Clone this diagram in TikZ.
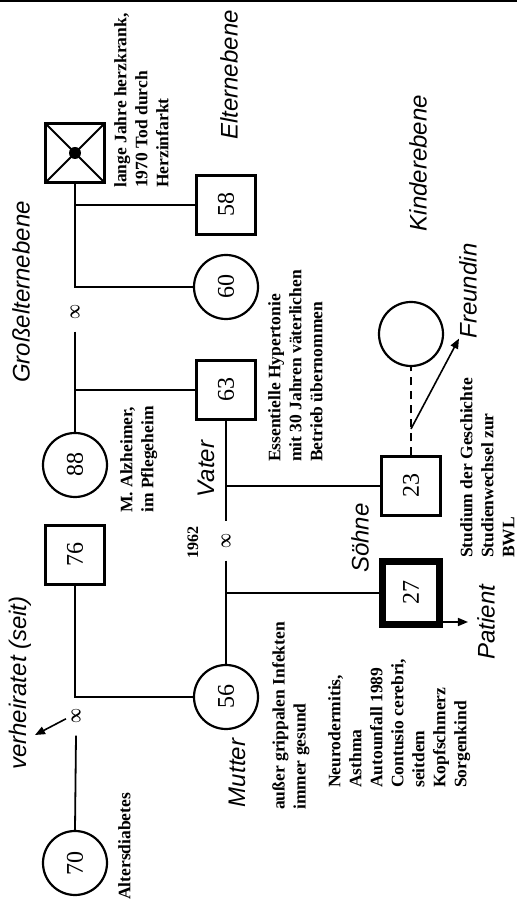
\documentclass[tikz,border=0pt]{standalone}
\usepackage{fontspec}
\setmainfont{Liberation Serif}
\newfontfamily\helv{Liberation Sans}
\usetikzlibrary{arrows.meta, calc}

\newcommand\notizfont{\bfseries\fontsize{17.5}{21}\selectfont}
\newcommand\zahlfont{\fontsize{24}{24}\selectfont}
\newcommand\ebenefont{\helv\itshape\fontsize{24}{26}\selectfont}
\newcommand\unendl{\resizebox{15pt}{9pt}{\boldmath$\infty$}}

\tikzset{
  mann/.style       = {draw, line width=2.2pt, minimum size=59pt,
                       inner sep=0pt, font=\zahlfont},
  frau/.style       = {mann, circle, minimum size=64pt},
  verstorben/.style = {mann, path picture={
                         \draw[line width=2pt]
                           (path picture bounding box.north west) -- (path picture bounding box.south east)
                           (path picture bounding box.north east) -- (path picture bounding box.south west);
                         \fill (path picture bounding box.center) circle (6pt);}},
  indexpers/.style  = {mann, line width=7pt, minimum width=63pt, minimum height=57pt},
  ehe/.style        = {inner xsep=12pt, inner ysep=0pt},
  linie/.style      = {line width=1.8pt},
  arr/.style        = {-{Triangle[length=10pt, width=8pt]}, line width=1.6pt},
  notiz/.style      = {font=\notizfont, align=left, inner sep=0pt, anchor=north west},
  ebene/.style      = {font=\ebenefont, inner sep=0pt},
}

\begin{document}
\begin{tikzpicture}[x=1pt, y=1pt]
  \useasboundingbox (0,0) rectangle (517,903);
  \draw[line width=2.2pt] (0,902) -- (517,902);

  % genogram, drawn upright and turned by 90 degrees
  \begin{scope}[rotate=90, transform shape]

    % Großelternebene
    \node[verstorben] (gvtr)    at (750,-75) {};
    \node[frau]       (oma88)   at (438,-75) {88};
    \node[mann]       (opa76)   at (348,-75) {76};
    \node[frau]       (oma70)   at (40,-75)  {70};
    \node[ehe]        (ehe1)    at (591,-75) {\unendl};
    \node[ehe]        (ehe2)    at (187,-76) {\unendl};

    % Elternebene
    \node[mann]       (onkel58) at (698,-226) {58};
    \node[frau]       (tante60) at (616,-226) {60};
    \node[mann]       (vater63) at (513,-226) {63};
    \node[frau]       (mutter56) at (206,-226) {56};
    \node[ehe]        (ehe3)    at (362,-226) {\unendl};

    % Kinderebene
    \node[frau]       (freundin) at (569,-411) {};
    \node[mann]       (sohn23)  at (417,-411) {23};
    \node[indexpers]  (pat27)   at (310,-411) {27};

    % Linien
    \draw[linie] (gvtr.west) -| (tante60.north);
    \draw[linie] (onkel58.north) -- (onkel58.north |- gvtr.west);
    \draw[linie] (ehe1.west) -- (oma88.east);
    \draw[linie] (vater63.north) -- (vater63.north |- oma88.east);
    \draw[linie] (opa76.west) -| (mutter56.north);
    \draw[linie] (ehe2.west) -- (oma70.east);
    \draw[linie] (vater63.west) -- (ehe3.east);
    \draw[linie] (ehe3.west) -- (mutter56.east);
    \draw[linie] (sohn23.north) -- (sohn23.north |- vater63.west);
    \draw[linie] (pat27.north) -- (pat27.north |- mutter56.east);
    \draw[linie, dash pattern=on 8pt off 6pt] (sohn23.east) -- (freundin.west);

    % Ebenen und Rollen
    \node[ebene] (grosseltern) at (611,-21)  {Großelternebene};
    \node[ebene] (eltern)      at (828,-229) {Elternebene};
    \node[ebene] (kinder)      at (740,-418) {Kinderebene};
    \node[ebene] (verh)        at (220,-20)  {verheiratet (seit)};
    \node[ebene] (vaterlbl)    at (434,-206) {Vater};
    \node[ebene] (mutterlbl)   at (130,-237) {Mutter};
    \node[ebene] (soehne)      at (365,-360) {Söhne};
    \node[ebene] (frlbl)       at (612,-468) {Freundin};
    \node[ebene] (patlbl)      at (281,-486) {Patient};
    \node[font=\bfseries\fontsize{16}{16}\selectfont, inner sep=0pt] (jahr) at (360,-193) {1962};

    % Notizen
    \node[notiz] (n-gvtr)   at (715,-114) {lange Jahre herzkrank,\\1970 Tod durch\\Herzinfarkt};
    \node[notiz] (n-vater)  at (441,-268) {Essentielle Hypertonie\\mit 30 Jahren väterlichen\\Betrieb übernommen};
    \node[notiz] (n-oma88)  at (390,-120) {M. Alzheimer,\\im Pflegeheim};
    \node[notiz] (n-sohn)   at (345,-460) {Studium der Geschichte\\Studienwechsel zur\\BWL};
    \node[notiz] (n-mutter) at (93,-272)  {außer grippalen Infekten\\immer gesund};
    \node[notiz] (n-oma70)  at (3,-118)   {Altersdiabetes};
    \node[notiz] (n-pat)    at (115,-328) {Neurodermitis,\\Asthma\\Autounfall 1989\\Contusio cerebri,\\seitdem\\Kopfschmerz\\Sorgenkind};

    % Pfeile
    \coordinate (verhtip) at (168,-35);
    \draw[arr, shorten <=6pt] (ehe2.north) -- (verhtip);
    \draw[arr] ($(sohn23.east)!0.3!(freundin.west)$) -- (frlbl.north west);
    \draw[arr, shorten >=9pt] (pat27.south -| patlbl.north) -- (patlbl.north);

  \end{scope}
\end{tikzpicture}
\end{document}
